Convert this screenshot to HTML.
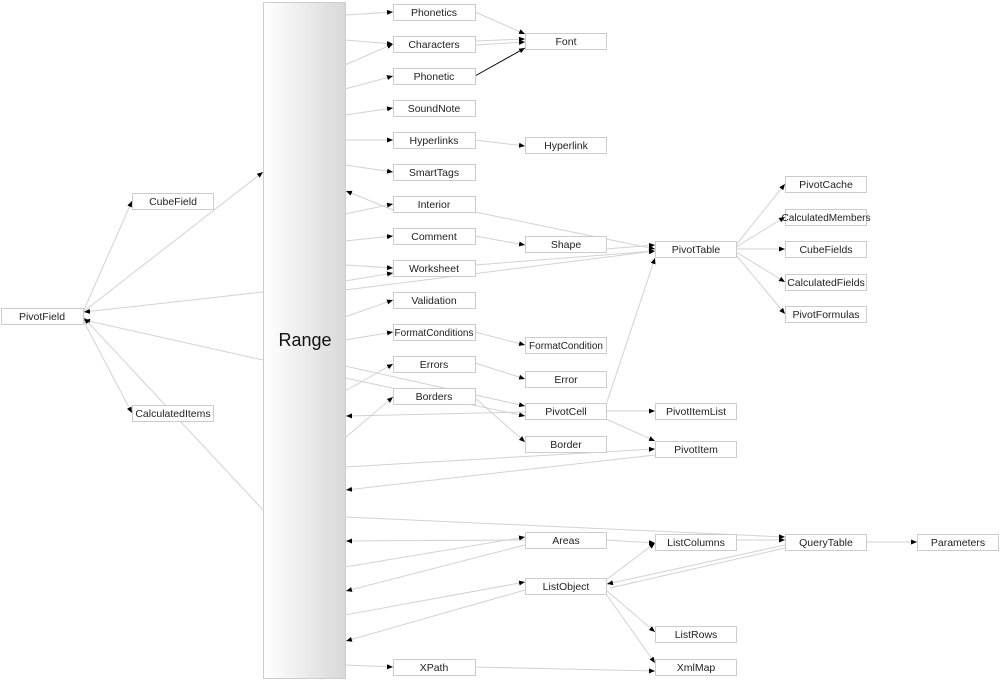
<!DOCTYPE html>
<html><head><meta charset="utf-8"><style>
body{margin:0;background:#fff;}
svg{display:block;font-family:"Liberation Sans",Arial,sans-serif;}
</style></head><body>
<svg width="1000" height="681" viewBox="0 0 1000 681" xmlns="http://www.w3.org/2000/svg">
<defs>
<linearGradient id="g" x1="0" x2="1" y1="0" y2="0"><stop offset="0" stop-color="#fff"/><stop offset="1" stop-color="#d8d8d8"/></linearGradient>
<marker id="a" markerWidth="6" markerHeight="6" refX="6" refY="3" orient="auto" markerUnits="userSpaceOnUse"><path d="M0,0.5 L6,3 L0,5.5z" fill="#000"/></marker>
</defs>
<rect x="263.5" y="2.5" width="82" height="676" fill="url(#g)" stroke="#ccc"/>
<text x="305" y="346" font-size="18" text-anchor="middle" fill="#111">Range</text>
<g stroke="#d2d2d2" stroke-width="1" fill="none" marker-end="url(#a)">
<line x1="345" y1="15" x2="393" y2="12"/>
<line x1="345" y1="40" x2="393" y2="44"/>
<line x1="345" y1="65" x2="393" y2="44"/>
<line x1="345" y1="89" x2="393" y2="76"/>
<line x1="345" y1="115" x2="393" y2="108"/>
<line x1="345" y1="140" x2="393" y2="140"/>
<line x1="345" y1="165" x2="393" y2="172"/>
<line x1="393" y1="210" x2="346" y2="191"/>
<line x1="345" y1="214" x2="393" y2="204"/>
<line x1="345" y1="241" x2="393" y2="236"/>
<line x1="345" y1="265" x2="393" y2="268"/>
<line x1="345" y1="281" x2="393" y2="273"/>
<line x1="345" y1="290" x2="655" y2="251"/>
<line x1="345" y1="317" x2="393" y2="300"/>
<line x1="345" y1="340" x2="393" y2="332"/>
<line x1="345" y1="366" x2="525" y2="406"/>
<line x1="345" y1="378" x2="525" y2="416"/>
<line x1="345" y1="391" x2="393" y2="364"/>
<line x1="345" y1="438" x2="393" y2="397"/>
<line x1="525" y1="412" x2="346" y2="416"/>
<line x1="475" y1="363" x2="525" y2="379"/>
<line x1="475" y1="332" x2="525" y2="345"/>
<line x1="475" y1="236" x2="525" y2="245"/>
<line x1="475" y1="212" x2="655" y2="249"/>
<line x1="606" y1="249" x2="655" y2="245"/>
<line x1="475" y1="265" x2="655" y2="251"/>
<line x1="606" y1="405" x2="655" y2="258"/>
<line x1="606" y1="411" x2="655" y2="411"/>
<line x1="606" y1="419" x2="655" y2="441"/>
<line x1="475" y1="398" x2="525" y2="442"/>
<line x1="345" y1="467" x2="655" y2="449"/>
<line x1="655" y1="455" x2="346" y2="490"/>
<line x1="345" y1="517" x2="785" y2="537"/>
<line x1="525" y1="540" x2="346" y2="541"/>
<line x1="345" y1="567" x2="525" y2="537"/>
<line x1="525" y1="545" x2="346" y2="591"/>
<line x1="345" y1="615" x2="525" y2="582"/>
<line x1="525" y1="590" x2="346" y2="641"/>
<line x1="345" y1="665" x2="393" y2="667"/>
<line x1="475" y1="667" x2="655" y2="671"/>
<line x1="606" y1="540" x2="655" y2="543"/>
<line x1="606" y1="580" x2="655" y2="543"/>
<line x1="736" y1="540" x2="785" y2="540"/>
<line x1="785" y1="545" x2="607" y2="584"/>
<line x1="785" y1="548" x2="610" y2="588" marker-end="none"/>
<line x1="606" y1="590" x2="655" y2="632"/>
<line x1="606" y1="594" x2="655" y2="663"/>
<line x1="866" y1="542" x2="917" y2="542"/>
<line x1="475" y1="12" x2="525" y2="34"/>
<line x1="475" y1="41" x2="525" y2="39"/>
<line x1="475" y1="45" x2="525" y2="42"/>
<line x1="475" y1="140" x2="525" y2="146"/>
<line x1="736" y1="245" x2="785" y2="184"/>
<line x1="736" y1="247" x2="785" y2="217"/>
<line x1="736" y1="249" x2="785" y2="249"/>
<line x1="736" y1="252" x2="785" y2="282"/>
<line x1="736" y1="255" x2="785" y2="314"/>
<line x1="83" y1="312" x2="263" y2="172"/>
<line x1="263" y1="292" x2="84" y2="312"/>
<line x1="263" y1="360" x2="84" y2="320"/>
<line x1="263" y1="510" x2="84" y2="318"/>
<line x1="83" y1="312" x2="132" y2="201"/>
<line x1="83" y1="320" x2="132" y2="413"/>
<line x1="475" y1="76" x2="525" y2="48" stroke="#000"/>
</g>
<g font-size="10.5" fill="#222" text-anchor="middle">
<g fill="#fff" stroke="#ccc">
<rect x="393.5" y="4.5" width="82" height="16"/><rect x="393.5" y="36.5" width="82" height="16"/><rect x="393.5" y="68.5" width="82" height="16"/><rect x="393.5" y="100.5" width="82" height="16"/><rect x="393.5" y="132.5" width="82" height="16"/><rect x="393.5" y="164.5" width="82" height="16"/><rect x="393.5" y="196.5" width="82" height="16"/><rect x="393.5" y="228.5" width="82" height="16"/><rect x="393.5" y="260.5" width="82" height="16"/><rect x="393.5" y="292.5" width="82" height="16"/><rect x="393.5" y="324.5" width="82" height="16"/><rect x="393.5" y="356.5" width="82" height="16"/><rect x="393.5" y="388.5" width="82" height="16"/><rect x="393.5" y="659.5" width="82" height="16"/>
<rect x="525.5" y="33.5" width="81" height="16"/><rect x="525.5" y="137.5" width="81" height="16"/><rect x="525.5" y="236.5" width="81" height="16"/><rect x="525.5" y="337.5" width="81" height="16"/><rect x="525.5" y="371.5" width="81" height="16"/><rect x="525.5" y="403.5" width="81" height="16"/><rect x="525.5" y="436.5" width="81" height="16"/><rect x="525.5" y="532.5" width="81" height="16"/><rect x="525.5" y="578.5" width="81" height="16"/>
<rect x="655.5" y="241.5" width="81" height="16"/><rect x="655.5" y="403.5" width="81" height="16"/><rect x="655.5" y="441.5" width="81" height="16"/><rect x="655.5" y="534.5" width="81" height="16"/><rect x="655.5" y="626.5" width="81" height="16"/><rect x="655.5" y="659.5" width="81" height="16"/>
<rect x="785.5" y="176.5" width="81" height="16"/><rect x="785.5" y="209.5" width="81" height="16"/><rect x="785.5" y="241.5" width="81" height="16"/><rect x="785.5" y="274.5" width="81" height="16"/><rect x="785.5" y="306.5" width="81" height="16"/><rect x="785.5" y="534.5" width="81" height="16"/><rect x="917.5" y="534.5" width="81" height="16"/>
<rect x="1.5" y="308.5" width="82" height="16"/><rect x="132.5" y="193.5" width="81" height="16"/><rect x="132.5" y="405.5" width="81" height="16"/>
</g>
<text x="434" y="16">Phonetics</text><text x="434" y="48">Characters</text><text x="434" y="80">Phonetic</text><text x="434" y="112">SoundNote</text><text x="434" y="144">Hyperlinks</text><text x="434" y="176">SmartTags</text><text x="434" y="208">Interior</text><text x="434" y="240">Comment</text><text x="434" y="272">Worksheet</text><text x="434" y="304">Validation</text><text x="434" y="336" font-size="10">FormatConditions</text><text x="434" y="368">Errors</text><text x="434" y="400">Borders</text><text x="434" y="671">XPath</text>
<text x="566" y="45">Font</text><text x="566" y="149">Hyperlink</text><text x="566" y="248">Shape</text><text x="566" y="349" font-size="10">FormatCondition</text><text x="566" y="383">Error</text><text x="566" y="415">PivotCell</text><text x="566" y="448">Border</text><text x="566" y="544">Areas</text><text x="566" y="590">ListObject</text>
<text x="696" y="253">PivotTable</text><text x="696" y="415">PivotItemList</text><text x="696" y="453">PivotItem</text><text x="696" y="546">ListColumns</text><text x="696" y="638">ListRows</text><text x="696" y="671">XmlMap</text>
<text x="826" y="188">PivotCache</text><text x="826" y="221" font-size="10">CalculatedMembers</text><text x="826" y="253">CubeFields</text><text x="826" y="286">CalculatedFields</text><text x="826" y="318">PivotFormulas</text><text x="826" y="546">QueryTable</text><text x="958" y="546">Parameters</text>
<text x="42" y="320">PivotField</text><text x="173" y="205">CubeField</text><text x="173" y="417">CalculatedItems</text>
</g>
</svg>
</body></html>
